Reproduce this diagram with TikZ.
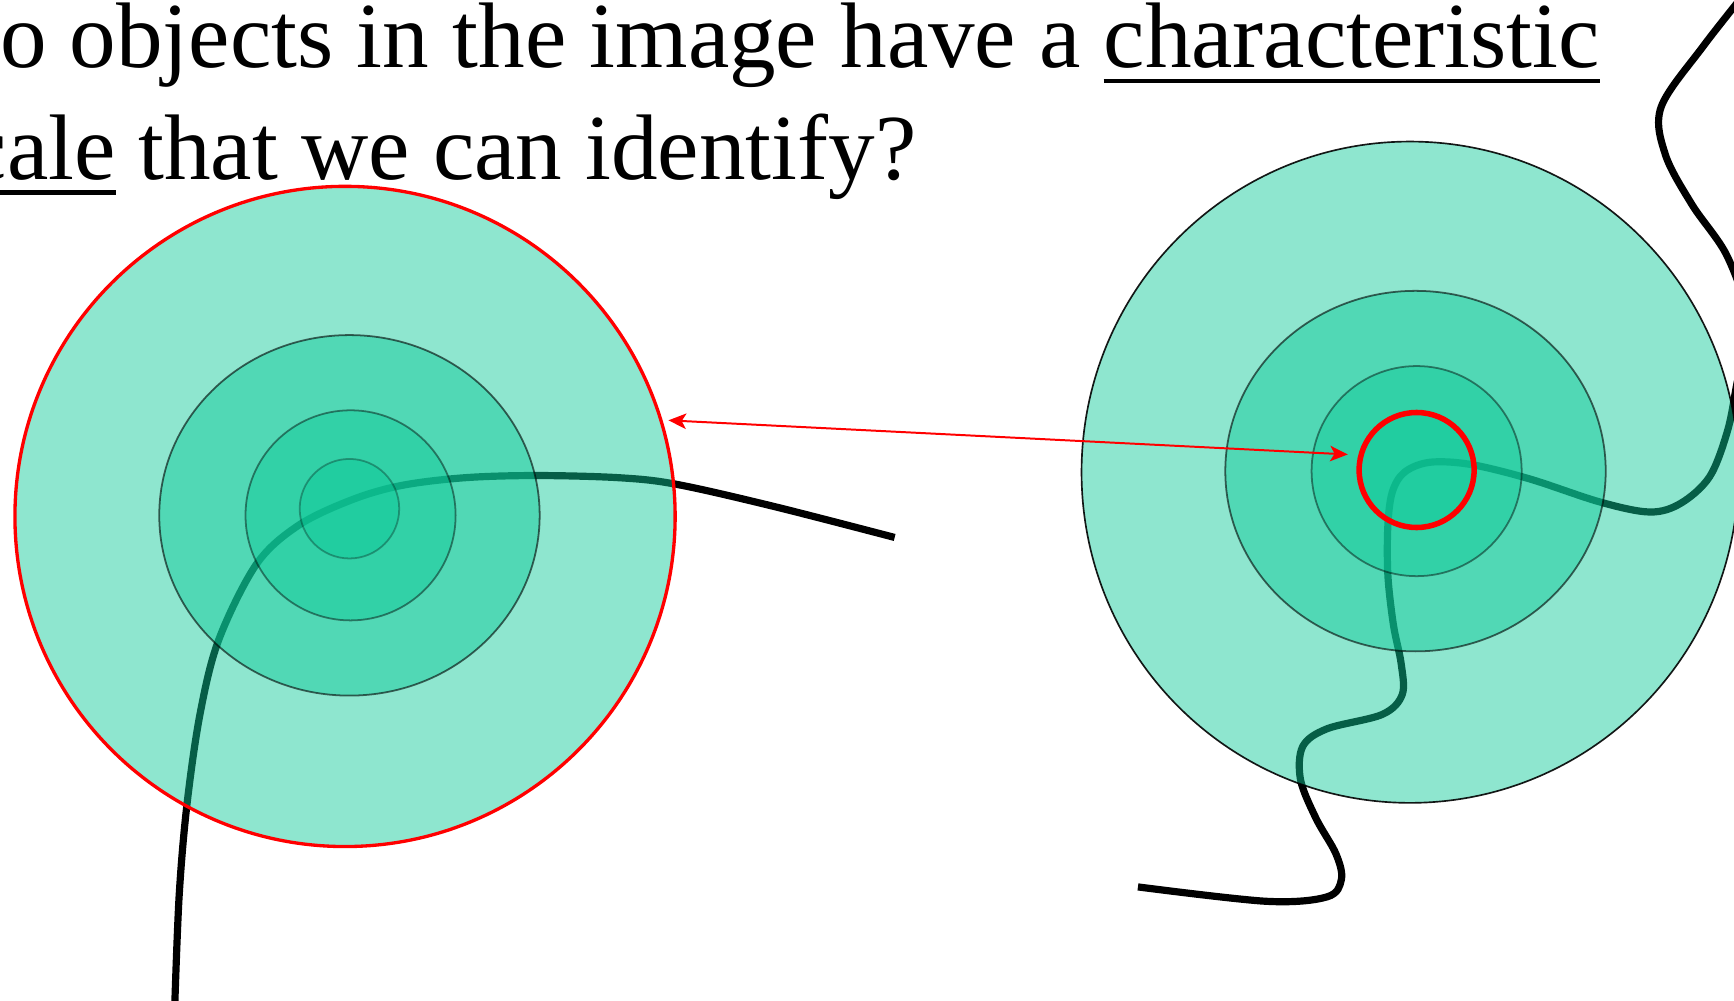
\documentclass[tikz,border=0pt]{standalone}
\usepackage{fontspec}
\setmainfont{Liberation Serif}
\usetikzlibrary{arrows.meta}
\definecolor{tealfill}{RGB}{14,201,152}
\begin{document}
\begin{tikzpicture}[x=1pt,y=-1pt,
  curve/.style={line width=6.5pt, black},
  disc/.style={fill=tealfill, fill opacity=0.47, draw=black, draw opacity=0.5, line width=1.6pt},
  txt/.style={inner sep=0pt, outer sep=0pt, anchor=base west, font=\fontsize{84.2}{101}\selectfont},
  uline/.style={line width=4pt, black},
  arr/.style={red, line width=1.8pt, {Stealth[length=16pt,width=14pt,inset=4pt]}-{Stealth[length=16pt,width=14pt,inset=4pt]}}]
\useasboundingbox (0,0) rectangle (1568,905);
\clip (0,0) rectangle (1568,905);

% curves (under the translucent discs)
\draw[curve] plot[smooth, tension=0.55] coordinates {
  (158,910) (162,810) (169,728) (181,645) (198,578) (232,510) (270,475)
  (318,452) (363,439) (420,432) (485,430) (560,432) (612,438) (700,458) (809,486)};
\draw[curve] plot[smooth, tension=0.55] coordinates {
  (1585,-15) (1540,42) (1502,97) (1506,140) (1530,185) (1562,232) (1580,290)
  (1570,350) (1562,390) (1546,431) (1520,455) (1492,463) (1447,454) (1383,433)
  (1330,420) (1293,418) (1270,427) (1259,445) (1255,475) (1255,520) (1260,565)
  (1267,600) (1268,628) (1250,646) (1200,659) (1178,675) (1176,705) (1190,740)
  (1208,772) (1213,795) (1200,811) (1145,815) (1029,802)};

% left discs
\node[circle, minimum size=597pt, inner sep=0pt, outer sep=0pt, fill=tealfill, fill opacity=0.47,
      draw=red, draw opacity=1, line width=3pt] (Lout) at (312,467) {};
\draw[disc, draw opacity=0.6] (316,466) ellipse [x radius=172, y radius=163];
\draw[disc, draw opacity=0.45] (317,466) circle [radius=95];
\draw[disc, draw opacity=0.3] (316,460) circle [radius=45];

% right discs
\draw[disc, draw opacity=0.9, line width=1.5pt] (1275,427) ellipse [x radius=297, y radius=299];
\draw[disc, draw opacity=0.6] (1280,426) ellipse [x radius=172, y radius=163];
\draw[disc, draw opacity=0.45] (1281,426) circle [radius=95];
\node[circle, minimum size=104pt, inner sep=0pt, outer sep=0pt, fill=tealfill, fill opacity=0.47,
      draw=red, draw opacity=1, line width=5pt] (Rring) at (1281,425) {};

% double arrow
\draw[arr, shorten <=7pt, shorten >=12pt] (Lout.17) -- (Rring.165);

% text
\node[txt] (l1a) at (0,61) {o objects in the image have a};
\node[txt] (l1b) at (998,61) {characteristic};
\node[txt] (l2a) at (-31,162) {cale};
\node[txt] (l2b) at (125,162) {that we can identify?};
\draw[uline] ([yshift=-12pt]l1b.base west) -- ([yshift=-12pt]l1b.base east);
\draw[uline] ([yshift=-12pt]l2a.base west) -- ([yshift=-12pt]l2a.base east);
\end{tikzpicture}
\end{document}
